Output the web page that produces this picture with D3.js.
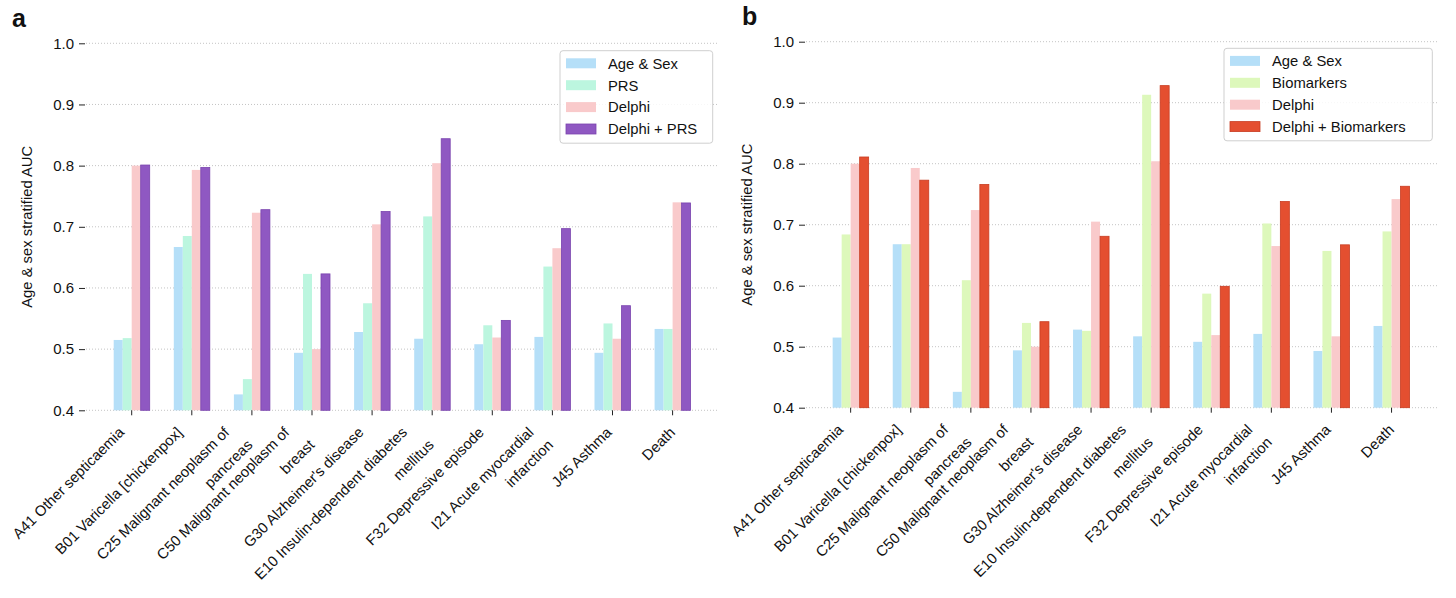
<!DOCTYPE html>
<html>
<head>
<meta charset="utf-8">
<script src="https://cdn.jsdelivr.net/npm/d3@7"></script>
<style>
  body { margin: 0; background: #fff; }
  svg { font-family: "Liberation Sans", Arial, Helvetica, sans-serif; }
</style>
</head>
<body>
<svg id="chart" width="1456" height="598"></svg>
<script>
// categories on the x axis (lines split with \n)
var categories = [
  "A41 Other septicaemia",
  "B01 Varicella [chickenpox]",
  "C25 Malignant neoplasm of\npancreas",
  "C50 Malignant neoplasm of\nbreast",
  "G30 Alzheimer's disease",
  "E10 Insulin-dependent diabetes\nmellitus",
  "F32 Depressive episode",
  "I21 Acute myocardial\ninfarction",
  "J45 Asthma",
  "Death"
];

var yTicks = [0.4, 0.5, 0.6, 0.7, 0.8, 0.9, 1.0];

// panel a
var seriesA = ["Age & Sex", "PRS", "Delphi", "Delphi + PRS"];
var ageSexA    = [0.515, 0.667, 0.426, 0.494, 0.528, 0.517, 0.508, 0.520, 0.494, 0.533];
var prsA       = [0.518, 0.685, 0.451, 0.623, 0.575, 0.717, 0.539, 0.635, 0.542, 0.533];
var delphiA    = [0.800, 0.793, 0.723, 0.500, 0.704, 0.804, 0.519, 0.665, 0.517, 0.740];
var delphiPrsA = [0.801, 0.797, 0.728, 0.623, 0.725, 0.844, 0.547, 0.697, 0.571, 0.739];

// panel b
var seriesB = ["Age & Sex", "Biomarkers", "Delphi", "Delphi + Biomarkers"];
var ageSexB     = [0.515, 0.668, 0.426, 0.494, 0.528, 0.517, 0.508, 0.521, 0.493, 0.534];
var biomarkersB = [0.684, 0.668, 0.609, 0.539, 0.526, 0.913, 0.587, 0.702, 0.657, 0.689];
var delphiB     = [0.800, 0.793, 0.724, 0.500, 0.705, 0.804, 0.519, 0.665, 0.517, 0.742];
var delphiBioB  = [0.811, 0.773, 0.766, 0.541, 0.681, 0.928, 0.599, 0.738, 0.667, 0.763];

var svg = d3.select("#chart");
var fs = 14.8;

function drawPanel(cfg) {
  var g = svg.append("g");

  var y = d3.scaleLinear().domain([0.4, 1.0]).range([cfg.bottom, cfg.top]);
  var x0 = d3.scaleBand().domain(categories).range([cfg.bandStart, cfg.bandStart + 601]);
  var x1 = d3.scaleBand().domain(cfg.series).range([0, 36]);

  // dotted grid
  g.append("g").selectAll("line")
    .data(yTicks)
    .enter().append("line")
    .attr("x1", cfg.gridLeft).attr("x2", cfg.gridRight)
    .attr("y1", d => y(d)).attr("y2", d => y(d))
    .attr("stroke", "#bdbdbd")
    .attr("stroke-width", 0.9)
    .attr("stroke-dasharray", "1,2");

  // y axis, ticks only
  var yAxis = g.append("g")
    .attr("transform", "translate(" + (cfg.gridLeft - 1) + ",0)")
    .call(d3.axisLeft(y).tickValues(yTicks).tickFormat(d3.format(".1f")).tickSize(6).tickPadding(5));
  yAxis.select(".domain").remove();
  yAxis.selectAll("text").attr("font-size", 15).attr("fill", "#111").attr("font-family", null);
  yAxis.selectAll("line").attr("stroke", "#222");

  // bars
  var rows = cfg.values.map((vals, si) => vals.map((v, ci) => ({ s: si, c: categories[ci], v: v })));
  g.append("g").selectAll("g")
    .data(rows)
    .enter().append("g")
    .selectAll("rect")
    .data(d => d)
    .enter().append("rect")
    .attr("x", d => x0(d.c) + x0.bandwidth() / 2 - 18 + x1(cfg.series[d.s]))
    .attr("y", d => y(d.v))
    .attr("width", x1.bandwidth())
    .attr("height", d => y(0.4) - y(d.v))
    .attr("fill", d => cfg.colors[d.s])
    .attr("stroke", d => cfg.edges[d.s])
    .attr("stroke-width", d => cfg.edges[d.s] == "none" ? 0 : 0.8);

  // x axis, ticks only
  var xAxis = g.append("g")
    .attr("transform", "translate(0," + cfg.bottom + ")")
    .call(d3.axisBottom(x0).tickSize(5).tickFormat(""));
  xAxis.select(".domain").remove();
  xAxis.selectAll("line").attr("stroke", "#222");

  // rotated category labels, one text per line; long lines sit a bit further left like the original
  var lh = fs * 1.2;
  var d45 = lh * Math.SQRT1_2;
  categories.forEach(function(cat) {
    var lines = cat.split("\n");
    var cx = x0(cat) + x0.bandwidth() / 2;
    lines.forEach(function(line, i) {
      var t = g.append("text")
        .attr("text-anchor", "end")
        .attr("font-size", fs)
        .attr("fill", "#111")
        .text(line);
      var w = t.node().getComputedTextLength();
      var ex = cx + 7 - 0.09 * w - (lines.length - 1 - i) * d45;
      var ey = cfg.bottom + 23 + i * d45;
      t.attr("transform", "translate(" + ex + "," + ey + ") rotate(-45)");
    });
  });

  // y label
  g.append("text")
    .attr("transform", "translate(" + cfg.yLabelX + "," + ((cfg.top + cfg.bottom) / 2) + ") rotate(-90)")
    .attr("text-anchor", "middle")
    .attr("font-size", fs)
    .attr("fill", "#111")
    .text("Age & sex stratified AUC");

  // panel letter
  g.append("text")
    .attr("x", cfg.letterX).attr("y", cfg.letterY)
    .attr("font-size", 25)
    .attr("font-weight", "bold")
    .attr("fill", "#111")
    .text(cfg.letter);

  // legend
  var lg = g.append("g").attr("transform", "translate(" + cfg.legX + "," + cfg.legY + ")");
  lg.append("rect")
    .attr("width", cfg.legW).attr("height", 92.5)
    .attr("rx", 3)
    .attr("fill", "#fff").attr("fill-opacity", 0.85)
    .attr("stroke", "#cfcfcf");
  var item = lg.selectAll("g.item")
    .data(cfg.series)
    .enter().append("g")
    .attr("class", "item")
    .attr("transform", (d, i) => "translate(6," + (12.6 + i * 21.9) + ")");
  item.append("rect")
    .attr("y", -5).attr("width", 30).attr("height", 10)
    .attr("fill", (d, i) => cfg.colors[i])
    .attr("stroke", (d, i) => cfg.edges[i])
    .attr("stroke-width", (d, i) => cfg.edges[i] == "none" ? 0 : 0.8);
  item.append("text")
    .attr("x", 42).attr("dy", "0.36em")
    .attr("font-size", fs)
    .attr("fill", "#111")
    .text(d => d);
}

drawPanel({
  letter: "a", letterX: 12, letterY: 27,
  top: 43.3, bottom: 410.3,
  gridLeft: 86, gridRight: 718,
  bandStart: 101.65,
  yLabelX: 32,
  series: seriesA,
  values: [ageSexA, prsA, delphiA, delphiPrsA],
  colors: ["#b5dff8", "#bcf6df", "#f9cacb", "#8f58c2"],
  edges: ["none", "none", "none", "#7a44ae"],
  legX: 560, legY: 50.7, legW: 152.7
});

drawPanel({
  letter: "b", letterX: 742, letterY: 25,
  top: 41.7, bottom: 407.7,
  gridLeft: 806, gridRight: 1438,
  bandStart: 820.6,
  yLabelX: 752,
  series: seriesB,
  values: [ageSexB, biomarkersB, delphiB, delphiBioB],
  colors: ["#b5dff8", "#ddf8bb", "#f9cacb", "#e44f30"],
  edges: ["none", "none", "none", "#c83d22"],
  legX: 1224, legY: 48.3, legW: 208.3
});
</script>
</body>
</html>
